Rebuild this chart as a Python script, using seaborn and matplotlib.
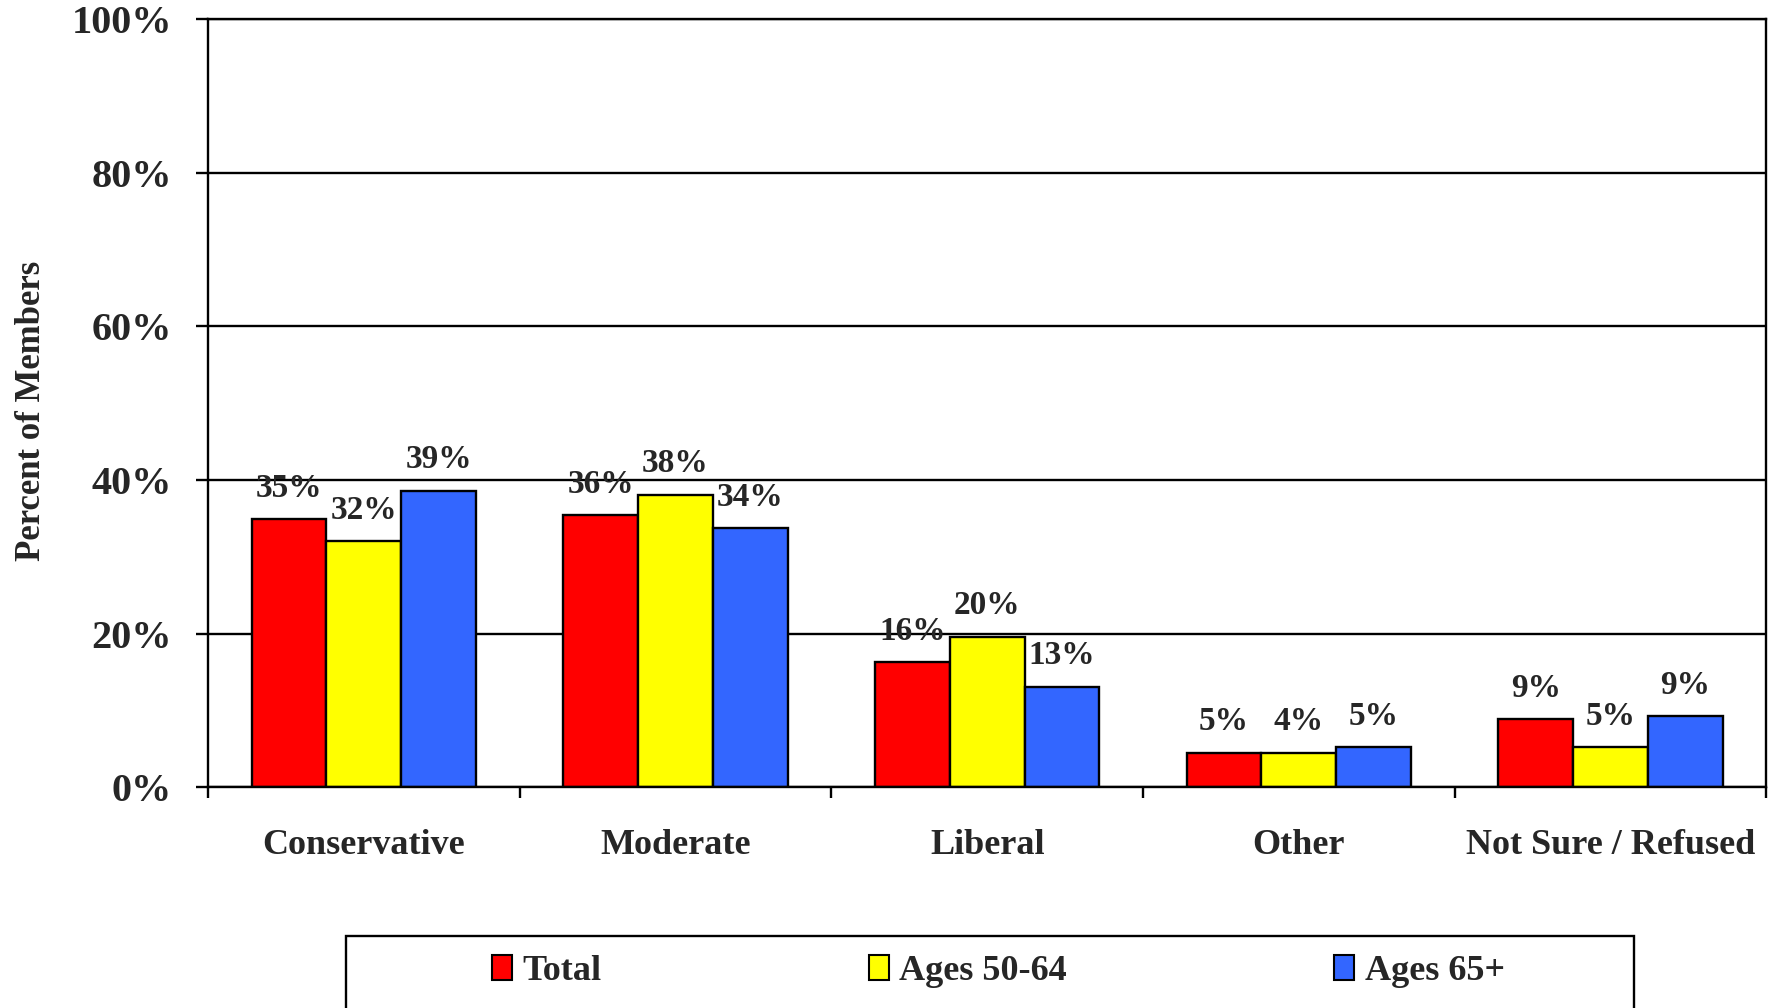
import matplotlib
matplotlib.use("Agg")
import matplotlib.pyplot as plt
import seaborn as sns
import pandas as pd
from matplotlib.patches import Patch, Rectangle

# data
categories = ["Conservative", "Moderate", "Liberal", "Other", "Not Sure / Refused"]
groups = ["Total", "Ages 50-64", "Ages 65+"]
total = [34.9, 35.4, 16.3, 4.5, 8.9]
ages_50_64 = [32.0, 38.1, 19.6, 4.5, 5.2]
ages_65_plus = [38.6, 33.7, 13.1, 5.2, 9.3]
total_labels = ["35%", "36%", "16%", "5%", "9%"]
ages_50_64_labels = ["32%", "38%", "20%", "4%", "5%"]
ages_65_plus_labels = ["39%", "34%", "13%", "5%", "9%"]
colors = ["#FF0000", "#FFFF00", "#3366FF"]
yticks = [0, 20, 40, 60, 80, 100]

df = pd.DataFrame({
    "category": categories * 3,
    "group": [groups[0]] * 5 + [groups[1]] * 5 + [groups[2]] * 5,
    "value": total + ages_50_64 + ages_65_plus,
})

sns.set_style("white")
plt.rcParams["font.family"] = ["Liberation Serif", "DejaVu Serif"]
plt.rcParams["font.weight"] = "bold"

fig = plt.figure(figsize=(17.86, 10.08), dpi=100)
ax = fig.add_axes([0.1165, 0.219, 0.8725, 0.762])

sns.barplot(
    data=df, x="category", y="value", hue="group",
    order=categories, hue_order=groups, palette=colors,
    width=0.72, saturation=1, edgecolor="black", linewidth=1.7,
    legend=False, ax=ax,
)

# value labels
for container, labels in zip(ax.containers, [total_labels, ages_50_64_labels, ages_65_plus_labels]):
    ax.bar_label(container, labels=labels, padding=11, fontsize=24, fontweight="bold")

ax.set_xlim(-0.5, 4.5)
ax.set_ylim(0, 100)
ax.set_yticks(yticks)
ax.set_yticklabels([f"{v}%" for v in yticks], fontsize=29, fontweight="bold")
ax.tick_params(axis="y", direction="out", length=9, width=1.7, color="black", pad=17, left=True)

# ticks at category boundaries, labels at category centres
ax.set_xticks([i - 0.5 for i in range(len(categories) + 1)])
ax.set_xticklabels([""] * (len(categories) + 1))
ax.set_xticks(range(len(categories)), minor=True)
ax.set_xticklabels(categories, minor=True, fontsize=26, fontweight="bold")
ax.tick_params(axis="x", which="major", direction="out", length=8, width=1.7, color="black", bottom=True)
ax.tick_params(axis="x", which="minor", length=0, pad=30)

ax.yaxis.grid(True, color="black", linewidth=1.7)
ax.set_axisbelow(True)
for s in ax.spines.values():
    s.set_visible(True)
    s.set_color("black")
    s.set_linewidth(1.7)

ax.set_xlabel("")
ax.set_ylabel("Percent of Members", fontsize=25, fontweight="bold")
ax.yaxis.set_label_coords(-0.103, 0.49)

handles = [Patch(facecolor=c, edgecolor="black", linewidth=1.5) for c in colors]
fig.legend(
    handles, groups, loc="center", bbox_to_anchor=(0.559, 0.036), ncol=3,
    frameon=False, handlelength=0.55, handleheight=0.65, handletextpad=0.3,
    columnspacing=7.4, prop={"size": 26, "weight": "bold"},
)
fig.add_artist(Rectangle((0.194, -0.01), 0.721, 0.0815, transform=fig.transFigure,
                         fill=False, edgecolor="black", linewidth=1.7))

plt.savefig("out.png", dpi=100)
